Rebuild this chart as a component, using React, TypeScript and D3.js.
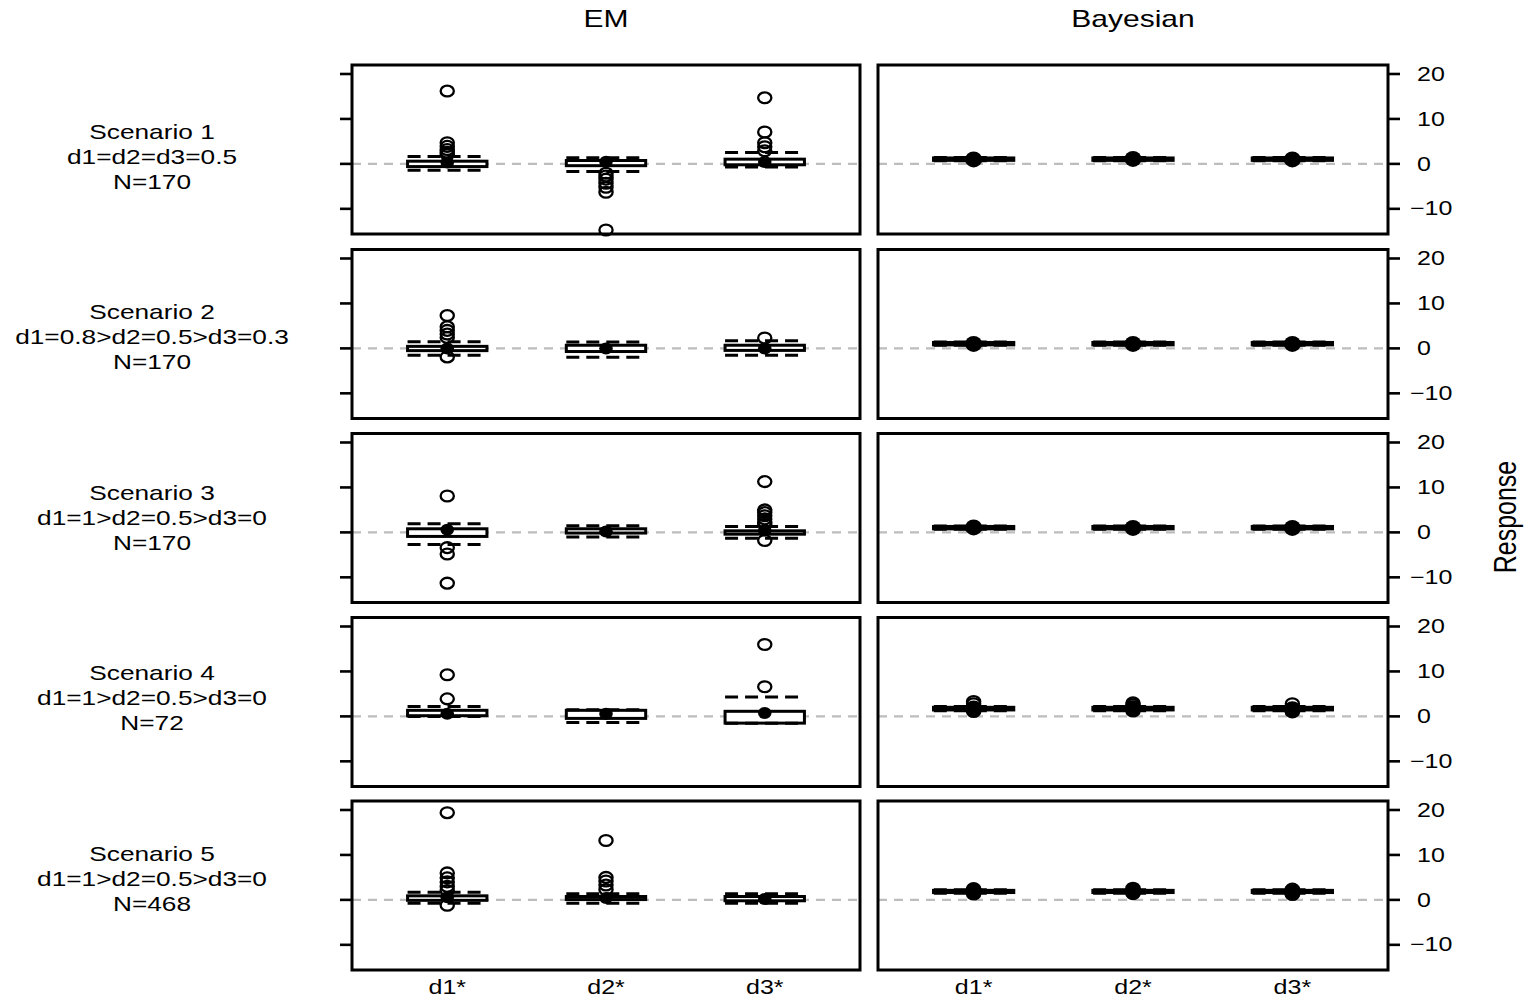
import React from "react";
import * as d3 from "d3";

// ---- data ----
const categories = ["d1*", "d2*", "d3*"];
const methods = ["EM", "Bayesian"];
const scenarioNames = ["Scenario 1", "Scenario 2", "Scenario 3", "Scenario 4", "Scenario 5"];
const scenarioRules = [
  "d1=d2=d3=0.5",
  "d1=0.8>d2=0.5>d3=0.3",
  "d1=1>d2=0.5>d3=0",
  "d1=1>d2=0.5>d3=0",
  "d1=1>d2=0.5>d3=0",
];
const scenarioSizes = [170, 170, 170, 72, 468];
const yTicks = [-10, 0, 10, 20];
const yDomain = [-15.6, 22.0];
const xDomain = [0.4, 3.6];

// [lower whisker, Q1, median, Q3, upper whisker] per scenario and parameter
const emBoxes = [
  [[-1.4, -0.6, 0.3, 0.6, 1.65], [-1.7, -0.4, 0.5, 0.75, 1.35], [-0.7, -0.2, 0.4, 1.05, 2.55]],
  [[-1.5, -0.5, 0.0, 0.45, 1.5], [-1.95, -0.7, 0.0, 0.7, 1.4], [-1.5, -0.45, 0.0, 0.7, 1.7]],
  [[-2.7, -0.9, 0.6, 0.8, 1.9], [-1.05, -0.15, 0.2, 0.8, 1.5], [-1.3, -0.4, 0.4, 0.35, 1.3]],
  [[0.0, 0.15, 0.6, 1.35, 2.2], [-1.35, -0.45, 0.6, 1.35, 1.5], [-1.5, -1.5, 0.75, 1.13, 4.3]],
  [[-0.75, -0.1, 0.6, 0.9, 1.7], [-0.75, 0.07, 0.4, 0.75, 1.35], [-0.75, -0.2, 0.2, 0.75, 1.35]],
];
const emOutliers = [
  [[16.2, 4.7, 3.9, 3.2, 2.6, 2.1], [-2.1, -2.7, -3.4, -4.3, -5.2, -6.3, -14.7], [14.7, 7.1, 4.7, 3.8, 2.9]],
  [[7.3, 4.8, 4.0, 3.2, 2.4, -1.9], [], [2.3]],
  [[8.1, -3.4, -4.8, -11.3], [], [11.3, 5.0, 4.4, 3.7, 3.0, 2.3, 1.8, -1.8]],
  [[9.25, 3.9], [], [16.0, 6.6]],
  [[19.4, 6.0, 4.9, 4.0, 3.0, 2.1, -1.2], [13.2, 5.0, 4.2, 3.3, 2.3], []],
];
const bayesBoxes = [
  [[0.75, 0.85, 1.0, 1.25, 1.35], [0.75, 0.85, 1.1, 1.25, 1.35], [0.75, 0.85, 1.0, 1.25, 1.35]],
  [[0.75, 0.85, 1.0, 1.25, 1.35], [0.75, 0.85, 1.0, 1.25, 1.35], [0.75, 0.85, 1.0, 1.25, 1.35]],
  [[0.75, 0.85, 1.1, 1.25, 1.35], [0.75, 0.85, 1.0, 1.25, 1.35], [0.75, 0.85, 1.0, 1.25, 1.35]],
  [[1.3, 1.5, 1.75, 1.95, 2.15], [1.3, 1.5, 1.8, 1.95, 2.15], [1.3, 1.5, 1.6, 1.95, 2.15]],
  [[1.55, 1.7, 1.9, 2.05, 2.2], [1.55, 1.7, 1.9, 2.05, 2.2], [1.55, 1.7, 1.7, 2.05, 2.2]],
];
const bayesOutliers = [
  [[], [], []],
  [[], [], []],
  [[], [], []],
  [[3.3, 2.8, 1.1], [3.0, 2.6, 1.2], [2.8, 1.0]],
  [[2.5, 1.3], [2.6, 1.4], [2.4, 1.2]],
];

// ---- layout ----
const panelLeft = [352, 878];
const panelWidth = [508, 510];
const rowTop = [65, 249.5, 433.5, 617.5, 801];
const panelHeight = 169;
const FONT = "'Liberation Sans', Arial, Helvetica, sans-serif";
const STRETCH = 1.25;

function SText(props: {
  x: number;
  y: number;
  size: number;
  anchor?: string;
  rotate?: number;
  children: React.ReactNode;
}) {
  const { x, y, size, anchor = "middle", rotate = 0, children } = props;
  return (
    <text
      transform={`translate(${x},${y}) scale(${STRETCH},1)${rotate ? ` rotate(${rotate})` : ""}`}
      fontSize={size}
      fontFamily={FONT}
      textAnchor={anchor}
      dominantBaseline="central"
      fill="#000"
    >
      {children}
    </text>
  );
}

function Panel(props: { row: number; col: number }) {
  const { row, col } = props;
  const left = panelLeft[col];
  const w = panelWidth[col];
  const top = rowTop[row];
  const x = d3.scaleLinear().domain(xDomain).range([left, left + w]);
  const y = d3.scaleLinear().domain(yDomain).range([top + panelHeight, top]);
  const boxes = col === 0 ? emBoxes[row] : bayesBoxes[row];
  const outliers = col === 0 ? emOutliers[row] : bayesOutliers[row];
  const half = 0.25;
  const dotR = col === 0 ? [6.8, 6] : [8.5, 8];
  const sw = col === 0 ? 3 : 3.6;

  return (
    <g>
      {/* reference line at zero */}
      <line
        x1={left}
        x2={left + w}
        y1={y(0)}
        y2={y(0)}
        stroke="#bdbdbd"
        strokeWidth={2.2}
        strokeDasharray="9,7"
      />
      {boxes.map((b, i) => {
        const cx = x(i + 1);
        const x0 = x(i + 1 - half);
        const x1 = x(i + 1 + half);
        const [lo, q1, med, q3, hi] = b;
        return (
          <g key={i}>
            <rect
              x={x0}
              y={y(Math.max(q1, q3))}
              width={x1 - x0}
              height={Math.abs(y(q1) - y(q3))}
              fill="#fff"
              stroke="#000"
              strokeWidth={sw}
            />
            {[lo, hi].map((v, k) => (
              <line
                key={k}
                x1={x0}
                x2={x1}
                y1={y(v)}
                y2={y(v)}
                stroke="#000"
                strokeWidth={sw}
                strokeDasharray="13,7"
              />
            ))}
            {outliers[i].map((v, k) => (
              <ellipse
                key={k}
                cx={cx}
                cy={y(v)}
                rx={6.6}
                ry={5.4}
                fill="none"
                stroke="#000"
                strokeWidth={2.3}
              />
            ))}
            <ellipse cx={cx} cy={y(med)} rx={dotR[0]} ry={dotR[1]} fill="#000" />
          </g>
        );
      })}
      <rect
        x={left}
        y={top}
        width={w}
        height={panelHeight}
        fill="none"
        stroke="#000"
        strokeWidth={3}
      />
      {/* tick marks: left on the EM column, right (with labels) on the Bayesian column */}
      {yTicks.map((t) =>
        col === 0 ? (
          <line key={t} x1={left - 12} x2={left} y1={y(t)} y2={y(t)} stroke="#000" strokeWidth={2.6} />
        ) : (
          <g key={t}>
            <line x1={left + w} x2={left + w + 12} y1={y(t)} y2={y(t)} stroke="#000" strokeWidth={2.6} />
            <SText x={left + w + (t < 0 ? 22 : 29)} y={y(t)} size={20} anchor="start">
              {t < 0 ? `\u2212${Math.abs(t)}` : `${t}`}
            </SText>
          </g>
        )
      )}
      {row === rowTop.length - 1 &&
        categories.map((c, i) => (
          <SText key={c} x={x(i + 1)} y={top + panelHeight + 17} size={20}>
            {c}
          </SText>
        ))}
    </g>
  );
}

export default function App() {
  return (
    <svg
      width={1529}
      height={1000}
      style={{ position: "absolute", left: 0, top: 0, background: "#fff" }}
    >
      <rect x={0} y={0} width={1529} height={1000} fill="#fff" />
      {methods.map((m, c) => (
        <SText key={m} x={panelLeft[c] + panelWidth[c] / 2} y={19} size={24}>
          {m}
        </SText>
      ))}
      {scenarioNames.map((s, r) => {
        const cy = 156 + r * 180.5;
        return (
          <g key={s}>
            <SText x={152} y={cy - 25} size={21}>{s}</SText>
            <SText x={152} y={cy} size={21}>{scenarioRules[r]}</SText>
            <SText x={152} y={cy + 25} size={21}>{`N=${scenarioSizes[r]}`}</SText>
          </g>
        );
      })}
      {rowTop.map((_, r) =>
        methods.map((_, c) => <Panel key={`${r}-${c}`} row={r} col={c} />)
      )}
      <SText x={1505} y={517} size={25} rotate={-90}>
        Response
      </SText>
    </svg>
  );
}
